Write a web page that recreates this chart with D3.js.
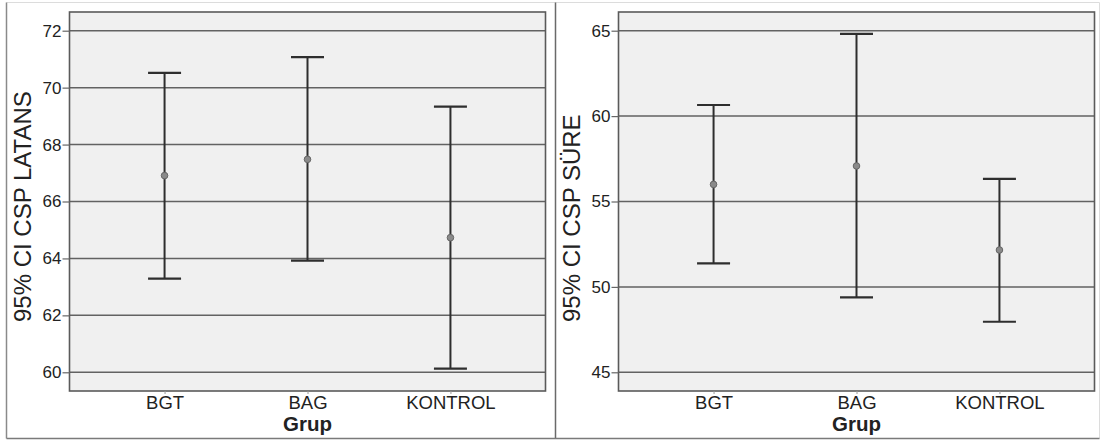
<!DOCTYPE html>
<html>
<head>
<meta charset="utf-8">
<script src="https://cdn.jsdelivr.net/npm/d3@7"></script>
<style>
  html, body { margin: 0; padding: 0; background: #ffffff; }
  svg { display: block; }
  text { font-family: "Liberation Sans", Arial, sans-serif; fill: #222; }
</style>
</head>
<body>
<svg id="chart" width="1103" height="441"></svg>
<script>
// Groups on the x axis
const groups = ["BGT", "BAG", "KONTROL"];

// CSP LATANS: 95% confidence interval per group
const latansLower = [63.29, 63.92, 60.13];
const latansMean  = [66.91, 67.48, 64.73];
const latansUpper = [70.52, 71.07, 69.33];
const latansTicks = [60, 62, 64, 66, 68, 70, 72];

// CSP SÜRE: 95% confidence interval per group
const sureLower = [51.38, 49.39, 47.96];
const sureMean  = [56.00, 57.08, 52.16];
const sureUpper = [60.65, 64.81, 56.32];
const sureTicks = [45, 50, 55, 60, 65];

const svg = d3.select("#chart");

// panel frame lines
const frame = svg.append("g");
frame.append("line").attr("x1", 6.5).attr("x2", 1099.5).attr("y1", 2.5).attr("y2", 2.5).attr("stroke", "#dcdcdc");
frame.append("line").attr("x1", 1099.5).attr("x2", 1099.5).attr("y1", 2.5).attr("y2", 438.5).attr("stroke", "#dcdcdc");
frame.append("line").attr("x1", 6.5).attr("x2", 6.5).attr("y1", 2.5).attr("y2", 438.5).attr("stroke", "#8a8a8a").attr("stroke-width", 1.5);
frame.append("line").attr("x1", 555.5).attr("x2", 555.5).attr("y1", 2.5).attr("y2", 438.5).attr("stroke", "#6a6a6a").attr("stroke-width", 1.5);
frame.append("line").attr("x1", 6.5).attr("x2", 1099.5).attr("y1", 438.5).attr("y2", 438.5).attr("stroke", "#7a7a7a").attr("stroke-width", 1.5);

function drawPanel(opts) {
  const { left, right, top, bottom, domain, ticks, lower, mean, upper, title } = opts;
  const g = svg.append("g");

  const x = d3.scalePoint().domain(groups).range([left, right]).padding(0.665);
  const y = d3.scaleLinear().domain(domain).range([bottom, top]);

  // plot background
  g.append("rect")
    .attr("x", left).attr("y", top)
    .attr("width", right - left).attr("height", bottom - top)
    .attr("fill", "#f0f0f0");

  // horizontal grid lines
  g.append("g").selectAll("line").data(ticks).join("line")
    .attr("x1", left).attr("x2", right)
    .attr("y1", d => y(d)).attr("y2", d => y(d))
    .attr("stroke", "#626262").attr("stroke-width", 1.5);

  // plot border
  g.append("rect")
    .attr("x", left).attr("y", top)
    .attr("width", right - left).attr("height", bottom - top)
    .attr("fill", "none").attr("stroke", "#5a5a5a").attr("stroke-width", 1.6);

  // y axis
  const ya = g.append("g").attr("transform", `translate(${left},0)`)
    .call(d3.axisLeft(y).tickValues(ticks).tickSize(7).tickPadding(1).tickFormat(d3.format("d")));
  ya.select(".domain").remove();
  ya.selectAll(".tick line").attr("stroke", "#666").attr("stroke-width", 1.2);
  ya.selectAll(".tick text").attr("font-size", 17).attr("fill", "#222")
    .attr("font-family", '"Liberation Sans", Arial, sans-serif');

  // x axis
  const xa = g.append("g").attr("transform", `translate(0,${bottom})`)
    .call(d3.axisBottom(x).tickSize(3).tickPadding(2));
  xa.select(".domain").remove();
  xa.selectAll(".tick line").attr("stroke", "#9a9a9a");
  xa.selectAll(".tick text").attr("font-size", 18.5).attr("fill", "#222")
    .attr("font-family", '"Liberation Sans", Arial, sans-serif');

  // error bars
  const rows = groups.map((gname, i) => ({ g: gname, lo: lower[i], m: mean[i], hi: upper[i] }));
  const capHalf = 16.5;
  const bars = g.append("g");
  bars.selectAll("line.stem").data(rows).join("line").attr("class", "stem")
    .attr("x1", d => x(d.g)).attr("x2", d => x(d.g))
    .attr("y1", d => y(d.lo)).attr("y2", d => y(d.hi))
    .attr("stroke", "#2e2e2e").attr("stroke-width", 2);
  bars.selectAll("line.capHi").data(rows).join("line").attr("class", "capHi")
    .attr("x1", d => x(d.g) - capHalf).attr("x2", d => x(d.g) + capHalf)
    .attr("y1", d => y(d.hi)).attr("y2", d => y(d.hi))
    .attr("stroke", "#2e2e2e").attr("stroke-width", 2.2);
  bars.selectAll("line.capLo").data(rows).join("line").attr("class", "capLo")
    .attr("x1", d => x(d.g) - capHalf).attr("x2", d => x(d.g) + capHalf)
    .attr("y1", d => y(d.lo)).attr("y2", d => y(d.lo))
    .attr("stroke", "#2e2e2e").attr("stroke-width", 2.2);
  bars.selectAll("circle").data(rows).join("circle")
    .attr("cx", d => x(d.g)).attr("cy", d => y(d.m)).attr("r", 3.3)
    .attr("fill", "#8a8a8a").attr("stroke", "#666").attr("stroke-width", 1);

  // axis titles
  g.append("text")
    .attr("x", (left + right) / 2).attr("y", 430.5)
    .attr("text-anchor", "middle")
    .attr("font-size", 20.5).attr("font-weight", "bold")
    .text("Grup");

  g.append("text")
    .attr("transform", `translate(${left - 39},322) rotate(-90)`)
    .attr("text-anchor", "start")
    .attr("font-size", 24)
    .text(title);
}

drawPanel({
  left: 69.5, right: 545.5, top: 12, bottom: 391,
  domain: [59.343, 72.657], ticks: latansTicks,
  lower: latansLower, mean: latansMean, upper: latansUpper,
  title: "95% CI CSP LATANS"
});

drawPanel({
  left: 618.5, right: 1094.5, top: 12, bottom: 391,
  domain: [43.905, 66.095], ticks: sureTicks,
  lower: sureLower, mean: sureMean, upper: sureUpper,
  title: "95% CI CSP SÜRE"
});
</script>
</body>
</html>
